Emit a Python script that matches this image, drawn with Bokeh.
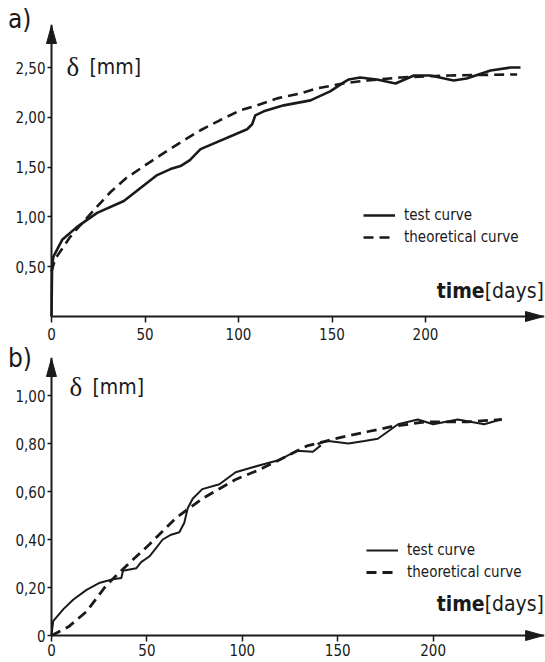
from bokeh.plotting import figure
from bokeh.models import Range1d, FixedTicker, Label, PolyAnnotation, Legend, LegendItem, Div, LinearAxis
from bokeh.layouts import column
from bokeh.embed import file_html
from bokeh.resources import INLINE

FONT = "DejaVu Sans Condensed"
SERIF = "Liberation Serif"
INK = "#1a1a1a"

# ---------------- panel a) data ----------------
a_test_days = [0, 0.3, 1, 5.7, 13.7, 24.4, 38.7, 56.5, 63.6, 69, 74, 79.7, 104.6, 107.3, 109, 113.5,
               124.2, 138.5, 149, 156.3, 159, 165, 174, 184, 193.8, 202.7, 215, 222, 234.8, 245.5, 250.8]
a_test_mm = [0, 0.50, 0.60, 0.77, 0.90, 1.04, 1.16, 1.42, 1.48, 1.51, 1.57, 1.68, 1.88, 1.93, 2.02, 2.06,
             2.12, 2.17, 2.26, 2.35, 2.38, 2.40, 2.38, 2.34, 2.42, 2.42, 2.37, 2.39, 2.47, 2.50, 2.50]
a_theo_days = [0, 2, 5.7, 10, 14.6, 21.8, 31.6, 40, 51, 58.3, 70, 79.7, 90, 101, 110, 120.7, 133, 142,
               156, 169, 186.6, 213, 249]
a_theo_mm = [0.45, 0.58, 0.68, 0.80, 0.90, 1.05, 1.25, 1.39, 1.53, 1.62, 1.76, 1.87, 1.97, 2.07, 2.12,
             2.19, 2.24, 2.29, 2.34, 2.37, 2.40, 2.42, 2.43]
a_yticks = [0.5, 1.0, 1.5, 2.0, 2.5]
a_ylabels = ["0,50", "1,00", "1,50", "2,00", "2,50"]

# ---------------- panel b) data ----------------
b_test_days = [0, 0.9, 6.25, 11.5, 18.4, 25.4, 32.3, 36.6, 37.5, 44.4, 47, 51.4, 58.3, 62.7, 67, 69.6,
               71.4, 74, 79, 88, 96.5, 105, 114, 119, 128.6, 137, 140.8, 139.8, 145, 155.6, 164, 171,
               181.6, 192, 200, 212.9, 226.7, 235.4]
b_test_mm = [0, 0.06, 0.11, 0.15, 0.19, 0.22, 0.234, 0.24, 0.27, 0.28, 0.306, 0.33, 0.40, 0.42, 0.43, 0.47,
             0.53, 0.57, 0.61, 0.63, 0.68, 0.70, 0.72, 0.73, 0.77, 0.766, 0.79, 0.80, 0.81, 0.80, 0.81, 0.82,
             0.88, 0.90, 0.88, 0.90, 0.88, 0.90]
b_theo_days = [0, 8.9, 18.4, 28.8, 39.2, 51.4, 65.3, 79, 96.5, 108.7, 119, 133.9, 148.6, 166, 178, 195.5,
               218, 236]
b_theo_mm = [0, 0.036, 0.10, 0.21, 0.29, 0.38, 0.49, 0.57, 0.65, 0.69, 0.73, 0.79, 0.82, 0.85, 0.87, 0.89,
             0.89, 0.90]
b_yticks = [0, 0.2, 0.4, 0.6, 0.8, 1.0]
b_ylabels = ["0", "0,20", "0,40", "0,60", "0,80", "1,00"]

x_ticks = [0, 50, 100, 150, 200]
x_labels = ["0", "50", "100", "150", "200"]
legend_labels = ["test curve", "theoretical curve"]

W = 545
INSET = 6   # origin sits this many px inside the frame so the arrow heads are not clipped


def make_panel(height, borders, origin, sx, sy, yticks, ylabels, delta_xy, test, theo,
               test_w, theo_w, legend_loc, x_standoff):
    left, right, top, bottom = borders
    ox, oy = origin                      # origin position inside the figure (px)
    fr_right = W - right
    fr_bottom = height - bottom
    x0 = -(ox - left) / sx
    x1 = (fr_right - ox) / sx
    y0 = -(fr_bottom - oy) / sy
    y1 = (oy - top) / sy
    p = figure(width=W, height=height, output_backend="svg", toolbar_location=None,
               x_range=Range1d(x0, x1), y_range=Range1d(y0, y1),
               min_border_left=left, min_border_right=right, min_border_top=top, min_border_bottom=bottom)
    p.xgrid.visible = False
    p.ygrid.visible = False
    p.outline_line_color = None
    p.background_fill_color = None
    p.border_fill_color = None

    # label-only axes on the frame edges
    xa, ya = p.xaxis[0], p.yaxis[0]
    for ax, ticks, labels in ((xa, x_ticks, x_labels), (ya, yticks, ylabels)):
        ax.axis_line_color = None
        ax.major_tick_line_color = None
        ax.minor_tick_line_color = None
        ax.major_tick_in = 0
        ax.major_tick_out = 0
        ax.major_label_text_font = FONT
        ax.major_label_text_font_size = "15px"
        ax.major_label_text_color = INK
        ax.ticker = FixedTicker(ticks=ticks)
        ax.major_label_overrides = {t: l for t, l in zip(ticks, labels)}
    xa.major_label_standoff = x_standoff
    ya.major_label_standoff = 0

    # axis lines + ticks drawn through the origin
    for place, ticks, tlen, bnd in (("below", x_ticks, 7, (0, x1)), ("left", yticks, 4, (0, y1))):
        ax = LinearAxis(fixed_location=0, bounds=bnd, ticker=FixedTicker(ticks=ticks),
                        axis_line_width=2, axis_line_color=INK,
                        major_tick_line_width=1.5, major_tick_line_color=INK,
                        major_tick_in=-tlen, major_tick_out=0, minor_tick_line_color=None,
                        major_label_overrides={t: "" for t in ticks}, major_label_standoff=0,
                        major_label_text_font_size="1px")
        p.add_layout(ax, place)

    r1 = p.line(test[0], test[1], line_color=INK, line_width=test_w, line_join="round")
    r2 = p.line(theo[0], theo[1], line_color=INK, line_width=theo_w, line_dash="10 6")

    legend = Legend(items=[LegendItem(label=legend_labels[0], renderers=[r1]),
                           LegendItem(label=legend_labels[1], renderers=[r2])],
                    location=legend_loc, orientation="vertical", glyph_width=32, glyph_height=18,
                    label_height=18, label_standoff=9, spacing=4, padding=0, margin=0,
                    border_line_color=None, background_fill_alpha=0,
                    label_text_font=FONT, label_text_font_size="15px", label_text_color=INK)
    p.add_layout(legend)

    # arrow heads at the ends of both axes (sizes in pixels, converted to data units)
    hl, hw = 18, 5
    yt = y1 - 1 / sy
    p.add_layout(PolyAnnotation(xs=[0, -hw / sx, hw / sx], ys=[yt, yt - hl / sy, yt - hl / sy],
                                fill_color=INK, fill_alpha=1, line_color=INK, line_alpha=1, line_width=1))
    xt = x1 - 1 / sx
    p.add_layout(PolyAnnotation(xs=[xt, xt - hl / sx, xt - hl / sx], ys=[0, hw / sy, -hw / sy],
                                fill_color=INK, fill_alpha=1, line_color=INK, line_alpha=1, line_width=1))

    p.add_layout(Label(x=delta_xy[0], y=delta_xy[1], x_units="screen", y_units="screen", text="δ",
                       text_font=SERIF, text_font_size="27px", text_color=INK, text_baseline="alphabetic"))
    p.add_layout(Label(x=delta_xy[0] + 23, y=delta_xy[1], x_units="screen", y_units="screen", text="[mm]",
                       text_font=FONT, text_font_size="21px", text_color=INK, text_baseline="alphabetic"))
    return p


def overlay_div(html, top, left, width, h, size, align="left"):
    # zero-height block in the column flow, shown through the transparent figure
    return Div(text=html, width=width, height=h, margin=(top, 0, -(top + h), left),
               styles={"font-family": "'DejaVu Sans Condensed', sans-serif", "font-size": size,
                       "line-height": f"{h}px", "color": INK, "white-space": "nowrap",
                       "text-align": align})


HA, HB = 346, 316
# panel a: origin at (51, 316); panel b: origin at (48, 289) inside its figure
pa = make_panel(HA, (51 - INSET, 1, 24, HA - 316 - INSET), (51, 316), 1.87, 99.6, a_yticks, a_ylabels,
                (21, 256), (a_test_days, a_test_mm), (a_theo_days, a_theo_mm), 2.6, 2.6, (318, 76), 5)
pb = make_panel(HB, (48 - INSET, 1, 11, HB - 289 - INSET), (48, 289), 1.92, 240.0, b_yticks, b_ylabels,
                (24, 255), (b_test_days, b_test_mm), (b_theo_days, b_theo_mm), 2.0, 2.8, (321, 60), 2)

tag_a = overlay_div("a)", 5, 8, 40, 28, "26px")
time_a = overlay_div("<b>time</b>[days]", 277, 424, 120, 28, "21px", "right")
tag_b = overlay_div("b)", -2, 8, 40, 28, "26px")
time_b = overlay_div("<b>time</b>[days]", 244, 424, 120, 28, "21px", "right")

layout = column(tag_a, time_a, pa, tag_b, time_b, pb)
open("out.html", "w").write(file_html(layout, INLINE))
